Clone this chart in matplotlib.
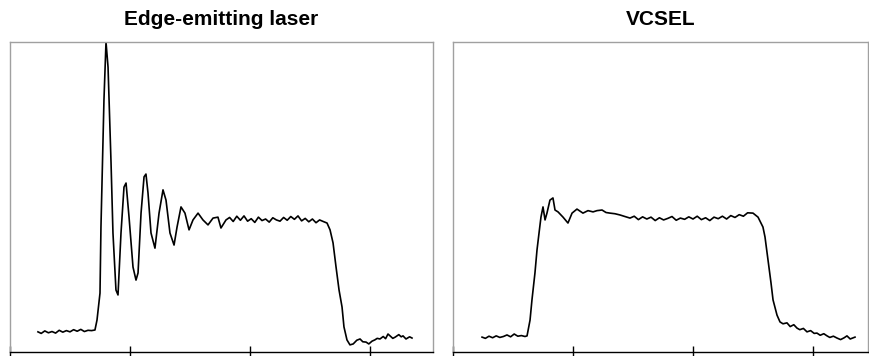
import matplotlib
matplotlib.use("Agg")
import matplotlib.pyplot as plt

# Edge-emitting laser pulse (x in tick units, y in % of full scale)
edge_x = [0.233, 0.26, 0.29, 0.32, 0.35, 0.38, 0.41, 0.44, 0.47, 0.50,
          0.53, 0.56, 0.59, 0.62, 0.65, 0.68, 0.708,
          0.725, 0.75, 0.758, 0.783, 0.80, 0.817, 0.842, 0.858, 0.883, 0.90,
          0.925, 0.95, 0.967, 0.992, 1.025, 1.05, 1.067, 1.092, 1.117, 1.133,
          1.15, 1.175, 1.208, 1.242, 1.275, 1.30, 1.333, 1.367, 1.392, 1.425,
          1.458, 1.492, 1.525, 1.567, 1.608, 1.65, 1.692, 1.733, 1.758,
          1.80, 1.83, 1.86, 1.89, 1.92, 1.95, 1.98, 2.01, 2.04, 2.07,
          2.10, 2.13, 2.16, 2.19, 2.22, 2.25, 2.28, 2.31, 2.34, 2.37,
          2.40, 2.43, 2.46, 2.49, 2.52, 2.55, 2.58, 2.61, 2.642,
          2.667, 2.692, 2.717, 2.742, 2.767, 2.783, 2.808,
          2.833, 2.86, 2.89, 2.917, 2.94, 2.967, 2.99, 3.017, 3.04, 3.06,
          3.083, 3.11, 3.13, 3.15, 3.17, 3.19, 3.21, 3.24, 3.26, 3.275,
          3.30, 3.33, 3.35]
edge_y = [6.5, 6.0, 6.8, 6.2, 6.6, 6.1, 7.0, 6.4, 6.9, 6.5,
          7.2, 6.7, 7.3, 6.6, 7.0, 6.9, 7.1,
          10.3, 19.0, 40.3, 81.3, 100.0, 91.9, 61.0, 38.4, 20.0, 18.4,
          38.4, 53.2, 54.5, 43.5, 27.4, 23.2, 25.5, 44.8, 56.5, 57.4,
          51.3, 38.4, 33.5, 44.8, 52.3, 49.0, 38.4, 34.5, 40.3, 46.8,
          44.8, 39.4, 42.6, 44.8, 42.6, 41.0, 43.2, 43.5, 40.0,
          42.6, 43.4, 42.1, 43.8, 42.5, 43.9, 42.2, 43.0, 41.8, 43.5,
          42.4, 42.9, 41.9, 43.3, 42.6, 42.2, 43.4, 42.5, 43.7, 42.8,
          43.9, 42.3, 43.1, 42.0, 42.9, 41.7, 42.6, 42.1, 41.6,
          39.4, 35.2, 27.4, 20.0, 14.5, 8.1, 3.9,
          2.3, 2.6, 3.8, 4.2, 3.3, 3.2, 2.6, 3.5, 3.9, 4.4,
          4.2, 5.0, 4.3, 5.8, 5.1, 4.4, 4.8, 5.6, 4.9, 5.2,
          4.2, 4.9, 4.5]

# VCSEL pulse
vcsel_x = [0.242, 0.27, 0.30, 0.33, 0.36, 0.39, 0.42, 0.45, 0.48, 0.51,
           0.54, 0.57, 0.60, 0.617, 0.642,
           0.658, 0.683, 0.70, 0.717, 0.733, 0.75, 0.767, 0.783, 0.808, 0.833,
           0.85, 0.875, 0.917, 0.958, 0.992, 1.033, 1.083, 1.125, 1.167, 1.2,
           1.242, 1.275, 1.308, 1.35, 1.392, 1.433,
           1.475, 1.51, 1.545, 1.58, 1.615, 1.65, 1.685, 1.72, 1.755, 1.79,
           1.825, 1.86, 1.895, 1.93, 1.965, 2.0, 2.035, 2.07, 2.105, 2.14,
           2.175, 2.21, 2.245, 2.28, 2.315, 2.35, 2.385, 2.42, 2.455, 2.50,
           2.542, 2.583, 2.60, 2.625, 2.65, 2.667, 2.70,
           2.725, 2.75, 2.783, 2.81, 2.84, 2.867, 2.89, 2.92, 2.95, 2.98,
           3.01, 3.033, 3.06, 3.09, 3.117, 3.14, 3.17, 3.20, 3.23, 3.26,
           3.283, 3.31, 3.35]
vcsel_y = [4.8, 4.4, 5.1, 4.6, 5.2, 4.7, 5.0, 5.5, 4.9, 5.8,
           5.1, 5.3, 5.0, 5.2, 10.3,
           16.8, 25.5, 32.9, 38.4, 43.5, 46.8, 42.6, 44.8, 49.0, 49.7,
           45.8, 45.2, 43.5, 41.6, 44.8, 46.1, 44.8, 45.6, 45.2, 45.6,
           45.8, 45.0, 44.8, 44.6, 44.2, 43.7,
           43.2, 43.8, 42.7, 43.6, 42.9, 43.5, 42.4, 43.3, 42.6, 43.1,
           43.7, 42.5, 43.2, 42.8, 43.6, 42.9, 43.8, 42.7, 43.3, 42.4,
           43.5, 43.0, 43.8, 42.9, 44.0, 43.4, 44.3, 43.8, 44.9, 44.8,
           43.5, 40.3, 37.1, 29.7, 22.3, 16.8, 11.9,
           9.7, 9.1, 9.4, 8.2, 8.8, 7.7, 7.2, 7.6, 6.5, 6.9,
           6.0, 6.1, 5.4, 5.9, 5.2, 4.7, 5.1, 4.5, 4.0, 4.6,
           5.2, 4.2, 4.8]

titles = ["Edge-emitting laser", "VCSEL"]
tick_pos = [0, 1, 2, 3]

plt.rcParams['font.family'] = ['Liberation Sans', 'DejaVu Sans']

fig = plt.figure(figsize=(8.69, 3.56), dpi=100)
W, H = 869, 356
# axes boxes in pixels: (left, right, bottom_px_from_top, top_px_from_top)
boxes = [(10, 433, 352, 42), (453, 868.5, 352, 42)]
series = [(edge_x, edge_y), (vcsel_x, vcsel_y)]

for (l, r, b, t), (xs, ys), title in zip(boxes, series, titles):
    ax = fig.add_axes([l / W, (H - b) / H, (r - l) / W, (b - t) / H])
    ax.plot(xs, ys, color='black', linewidth=1.2)
    ax.set_xlim(0, (r - l) / 120)
    ax.set_ylim(0, 100)
    ax.set_xticks(tick_pos)
    ax.set_xticklabels([])
    ax.set_yticks([])
    ax.tick_params(axis='x', direction='inout', length=9, width=1, color='black')
    for side in ['left', 'top', 'right']:
        ax.spines[side].set_color('#a0a0a0')
        ax.spines[side].set_linewidth(1)
    ax.spines['bottom'].set_color('black')
    ax.spines['bottom'].set_linewidth(1)
    fig.text((l + r) / 2 / W, 1 - 25 / H, title, ha='center', va='baseline',
             fontsize=15, fontweight='bold')

fig.savefig('out.png', dpi=100)
